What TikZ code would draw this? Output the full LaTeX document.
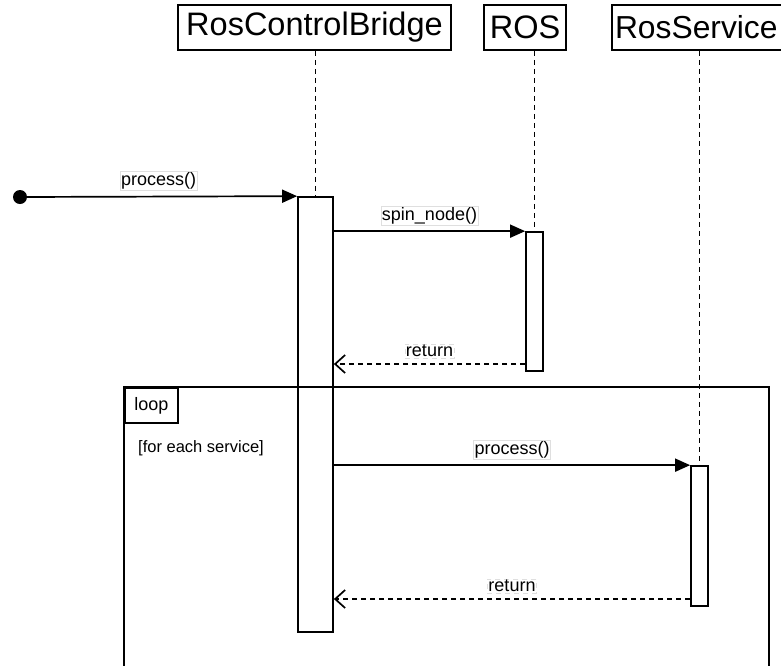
\documentclass[tikz,border=0pt]{standalone}
\usepackage{fontspec}
\setmainfont{Liberation Sans}
\usetikzlibrary{arrows.meta}
\begin{document}
\begin{tikzpicture}[x=1pt,y=-1pt,line width=1.7pt,
  headbox/.style={draw,inner sep=0pt,minimum height=45pt,font=\fontsize{32.5}{36}\selectfont},
  actbox/.style={draw,fill=white,inner sep=0pt,minimum width=17pt},
  lifeline/.style={dash pattern=on 5pt off 4pt},
  lbl/.style={fill=white,draw=gray!25,line width=0.5pt,inner sep=1pt,font=\fontsize{18}{20}\selectfont},
  msg/.style={-{Triangle[length=15pt,width=13pt]}},
  retmsg/.style={dash pattern=on 5pt off 4pt,-{Straight Barb[length=10pt,width=18pt]}}
]
\useasboundingbox (0,0) rectangle (781,665);
\clip (0,0) rectangle (781,665);
% headers
\node[headbox,minimum width=273pt] (rcb) at (314.5,27.5) {RosControlBridge};
\node[headbox,minimum width=82pt] (ros) at (525,27.5) {ROS};
\node[headbox,minimum width=178pt,text width=172pt,align=left,font=\fontsize{31.8}{36}\selectfont] (srv) at (701,27.5) {RosService};
% activations
\node[actbox,minimum width=35pt,minimum height=435pt] (rcbact) at (315.5,414.5) {};
\node[actbox,minimum height=139pt] (rosact) at (534.5,301.5) {};
\node[actbox,minimum height=140pt] (srvact) at (699.5,536) {};
% lifelines
\draw[lifeline] (rcbact.north |- rcb.south) -- (rcbact.north);
\draw[lifeline] (rosact.north |- ros.south) -- (rosact.north);
\draw[lifeline] (srvact.north |- srv.south) -- (srvact.north);
% loop frame
\coordinate (fbl) at (124,670);
\coordinate (ftl) at (124,387);
\coordinate (ftr) at (769,387);
\coordinate (fbr) at (769,670);
\draw (fbl) -- (ftl) -- (ftr) -- (fbr);
\node[draw,anchor=north west,inner sep=0pt,minimum width=53pt,minimum height=35pt,font=\fontsize{18}{20}\selectfont] (looptab) at (ftl) {loop};
\node[font=\fontsize{16.5}{18}\selectfont] (guard) at (201,448) {[for each service]};
% start
\node[circle,fill=black,inner sep=0pt,minimum size=14pt] (start) at (20,197) {};
% messages
\draw[msg] (start.center) -- node[lbl,above=6pt] {process()} (rcbact.north west);
\draw[msg] (rcbact.east |- rosact.north) -- node[lbl,above=6pt] {spin\_node()} (rosact.north west);
\draw[retmsg] (rosact.west |- 0,364) coordinate (r1s) -- node[lbl,above=6pt] {return} (rcbact.east |- r1s);
\draw[msg] (rcbact.east |- srvact.north) -- node[lbl,above=6pt] {process()} (srvact.north west);
\draw[retmsg] (srvact.west |- 0,599) coordinate (r2s) -- node[lbl,above=6pt] {return} (rcbact.east |- r2s);
\end{tikzpicture}
\end{document}
